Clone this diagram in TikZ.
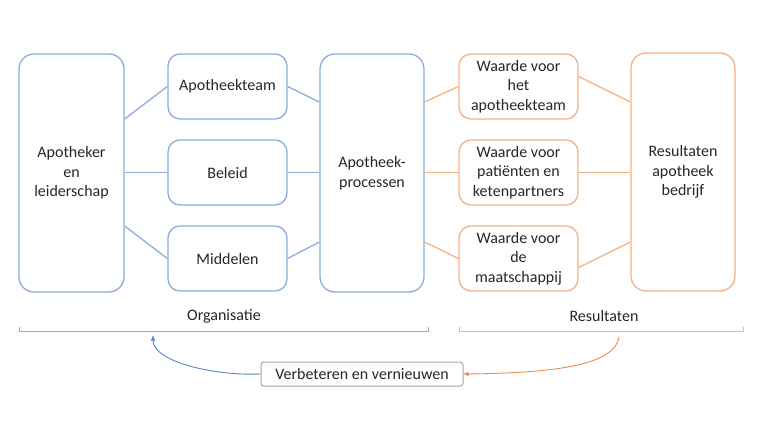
\documentclass[tikz,border=0pt]{standalone}
\usepackage{fontspec}
\setmainfont{Carlito}
\usetikzlibrary{arrows.meta,calc}
\definecolor{bbox}{HTML}{8FAADC}
\definecolor{obox}{HTML}{F4B183}
\definecolor{barrow}{HTML}{5B82CC}
\definecolor{oarrow}{HTML}{F08A4B}
\definecolor{txt}{HTML}{262626}
\definecolor{gbox}{HTML}{A6A6A6}
\begin{document}
\begin{tikzpicture}[x=1pt,y=-1pt,
  every node/.style={font=\fontsize{16}{19.5}\selectfont, text=txt, align=center, inner sep=0pt},
  tallb/.style={draw=bbox, line width=1.3pt, rounded corners=15pt, minimum width=105pt, minimum height=238pt},
  smallb/.style={draw=bbox, line width=1.3pt, rounded corners=12pt, minimum width=119pt, minimum height=65pt},
  tallo/.style={draw=obox, line width=1.3pt, rounded corners=15pt, minimum width=104pt, minimum height=238pt},
  smallo/.style={draw=obox, line width=1.3pt, rounded corners=12pt, minimum width=119pt, minimum height=65pt},
  bline/.style={draw=bbox, line width=1.3pt},
  oline/.style={draw=obox, line width=1.3pt},
  feedback/.style={draw=gbox, line width=1pt, rounded corners=3pt, minimum width=202pt, minimum height=24pt, fill=white},
  barr/.style={draw=barrow, line width=0.9pt, -{Triangle[length=5pt,width=4pt]}},
  oarr/.style={draw=oarrow, line width=0.9pt, -{Triangle[length=5pt,width=4pt]}},
]
\useasboundingbox (0,0) rectangle (760,428);
% organisation side
\node[tallb] (A) at (71.5,173) {Apotheker\\en\\leiderschap};
\node[smallb] (T) at (227.5,86.5) {Apotheekteam};
\node[smallb] (B) at (227.5,172.5) {Beleid};
\node[smallb] (M) at (227.5,258.5) {Middelen};
\node[tallb, minimum width=104pt] (P) at (372,173) {Apotheek-\\processen};
% results side
\node[smallo] (W1) at (518.5,86.5) {Waarde voor\\het\\apotheekteam};
\node[smallo] (W2) at (518.5,172.5) {Waarde voor\\patiënten en\\ketenpartners};
\node[smallo] (W3) at (518.5,258.5) {Waarde voor\\de\\maatschappij};
\node[tallo] (R) at (683,172) {Resultaten\\apotheek\\bedrijf};
% connectors left
\draw[bline] ($(A.east)+(0,-54)$) -- (T.west);
\draw[bline] (B.west -| A.east) -- (B.west);
\draw[bline] ($(A.east)+(0,53)$) -- (M.west);
\draw[bline] (T.east) -- ($(P.west)+(0,-71)$);
\draw[bline] (B.east) -- (B.east -| P.west);
\draw[bline] (M.east) -- ($(P.west)+(0,69)$);
% connectors right
\draw[oline] ($(P.east)+(0,-71)$) -- (W1.west);
\draw[oline] (W2.west -| P.east) -- (W2.west);
\draw[oline] ($(P.east)+(0,69)$) -- (W3.west);
\draw[oline] ($(W1.east)+(0,-10)$) -- ($(R.west)+(0,-70)$);
\draw[oline] (W2.east) -- (W2.east -| R.west);
\draw[oline] ($(W3.east)+(0,9)$) -- ($(R.west)+(0,70)$);
% brackets
\draw[draw=bbox, line width=1pt] (19.5,327) -- (19.5,331) -- (428,331) -- (428,327);
\node (org) at (224,316) {Organisatie};
\draw[draw=obox, line width=1pt] (459,327) -- (459,331) -- (743,331) -- (743,327);
\node (res) at (604,316) {Resultaten};
% feedback
\node[feedback] (V) at (362,374) {Verbeteren en vernieuwen};
\coordinate (bt) at (153,335.5);
\coordinate (os) at (619,337);
\draw[barr] (V.west) .. controls (215,376) and (153,362) .. (bt);
\draw[oarr] (os) .. controls (615,364) and (560,373) .. (V.east);
\end{tikzpicture}
\end{document}
